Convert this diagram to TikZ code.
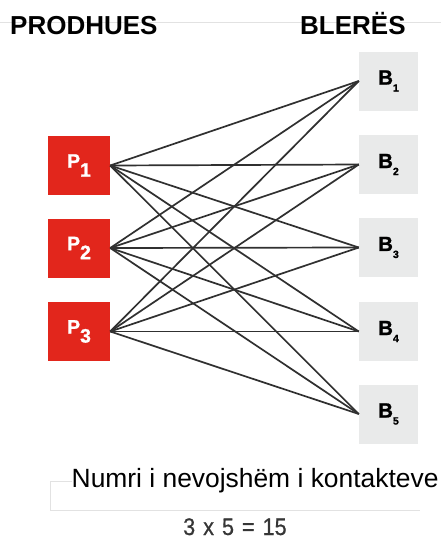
\documentclass[tikz,border=0pt]{standalone}
\usepackage{fontspec}
\setmainfont{Liberation Sans}[BoldFont={Liberation Sans Bold}]
\newfontfamily\labelfont[FakeBold=1.2]{Liberation Sans Bold}
\newfontfamily\sumfont[FakeStretch=0.9,FakeBold=0.6]{Liberation Sans}
\definecolor{prodred}{HTML}{E2261C}
\definecolor{buyergray}{HTML}{E9EAEA}
\definecolor{linkgray}{HTML}{303030}
\definecolor{faintgray}{HTML}{E2E2E2}
\definecolor{sumgray}{HTML}{363636}

% producer label: P with a lowered digit of the same size
\newcommand\prodlabel[1]{{\labelfont\fontsize{19.5}{20}\selectfont P\raisebox{-9pt}{#1}}}
% buyer label: B with a small lowered digit
\newcommand\buyerlabel[1]{{\labelfont\fontsize{20.5}{21}\selectfont B\raisebox{-7pt}{\fontsize{10.5}{11}\selectfont #1}}}

\begin{document}
\begin{tikzpicture}[x=1pt,y=-1pt,
  prodbox/.style={fill=prodred, minimum width=62pt, minimum height=59pt, inner sep=0pt, text=white},
  buyerbox/.style={fill=buyergray, minimum width=59pt, minimum height=59pt, inner sep=0pt, text=black},
  link/.style={draw=linkgray, line width=1.7pt},
  heading/.style={anchor=base west, inner sep=0pt, font=\bfseries\fontsize{26}{30}\selectfont},
  faintline/.style={draw=faintgray, line width=0.7pt}]
\useasboundingbox (0,0) rectangle (441,542);
\fill[white] (0,0) rectangle (441,542);

% faint rules behind the texts
\draw[faintline] (0,22.5) -- (441,22.5);
\draw[faintline] (72,481) -- (50,481) -- (50,510) -- (420,510);

% column headings
\node[heading] (hprod) at (10,34.5) {PRODHUES};
\node[heading] (hbuy) at (300,34.5) {BLERËS};

% producers
\node[prodbox] (P1) at (79,165.5) {\prodlabel{1}};
\node[prodbox] (P2) at (79,248) {\prodlabel{2}};
\node[prodbox] (P3) at (79,331.5) {\prodlabel{3}};

% buyers
\node[buyerbox] (B1) at (388.5,81) {\buyerlabel{1}};
\node[buyerbox] (B2) at (388.5,164.5) {\buyerlabel{2}};
\node[buyerbox] (B3) at (388.5,247.5) {\buyerlabel{3}};
\node[buyerbox] (B4) at (388.5,331.5) {\buyerlabel{4}};
\node[buyerbox] (B5) at (388.5,414) {\buyerlabel{5}};

% every producer contacts every buyer
\foreach \p in {1,2,3}
  \foreach \b in {1,...,5}
    \draw[link] (P\p.east) -- (B\b.west);

% caption and count
\node[anchor=base west, inner sep=0pt, font=\fontsize{26.4}{30}\selectfont] (note) at (71.5,487) {Numri i nevojshëm i kontakteve};
\node[anchor=base west, inner sep=0pt, text=sumgray, font=\sumfont\fontsize{24}{28}\selectfont] (sum) at (183,535)
  {3\hspace{8pt}x\hspace{8pt}5\hspace{8pt}=\hspace{8pt}15};
\end{tikzpicture}
\end{document}
